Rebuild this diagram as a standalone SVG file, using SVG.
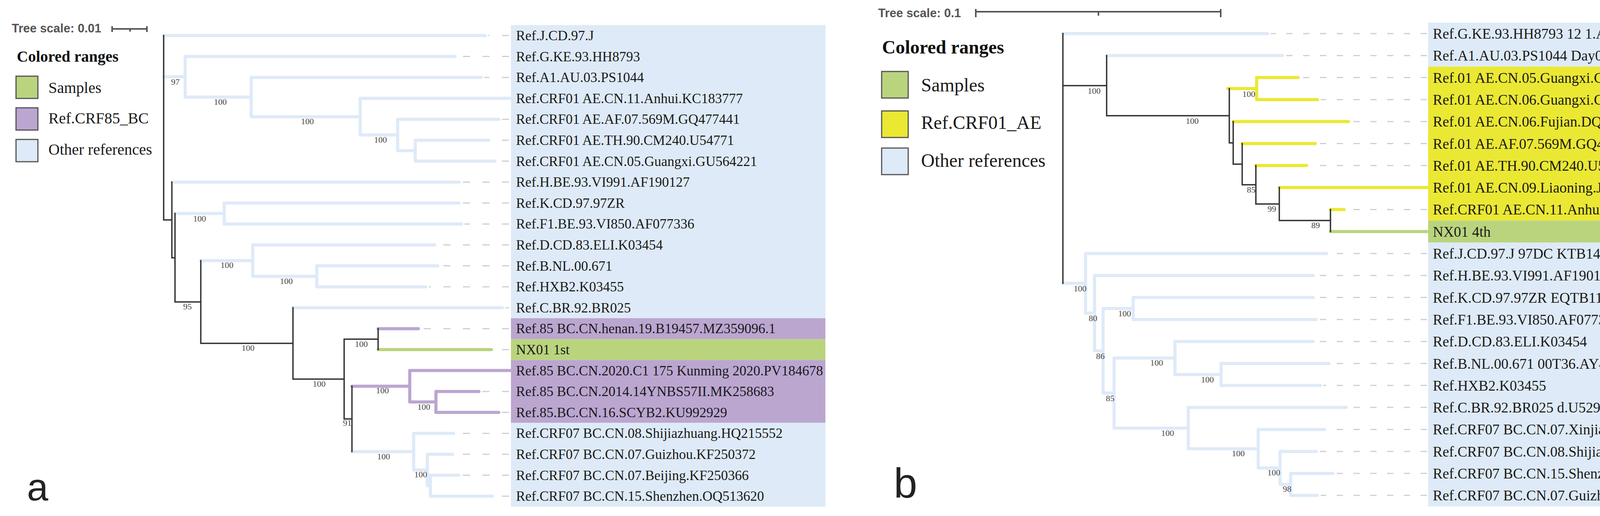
<svg xmlns="http://www.w3.org/2000/svg" width="4420" height="1321" viewBox="0 0 4420 1321">
<style>
.lb{stroke:#dfeaf8;stroke-width:8;stroke-linecap:round;fill:none}
.pu{stroke:#bba6d0;stroke-width:8;stroke-linecap:round;fill:none}
.gr{stroke:#bad47e;stroke-width:8;stroke-linecap:round;fill:none}
.ye{stroke:#ebe833;stroke-width:8;stroke-linecap:round;fill:none}
.bk{stroke:#333;stroke-width:3.5;stroke-linecap:square;fill:none}
.dsa{stroke:#cfcfcf;stroke-width:3;stroke-dasharray:18 32;fill:none}
.dsb{stroke:#cfcfcf;stroke-width:3;stroke-dasharray:16 27;fill:none}
.la{font-family:"Liberation Serif",serif;font-size:35.5px;fill:#1a1a1a}
.lbb{font-family:"Liberation Serif",serif;font-size:37.3px;fill:#1a1a1a}
.bs{font-family:"Liberation Serif",serif;font-size:22px;fill:#444;text-anchor:middle}
.ts{font-family:"Liberation Sans",Arial,sans-serif;font-size:31px;font-weight:bold;fill:#555}
.sc{stroke:#555;stroke-width:4;fill:none}
.lgt{font-family:"Liberation Serif",serif;font-weight:bold;fill:#111}
.lgl{font-family:"Liberation Serif",serif;fill:#1a1a1a}
.sw{stroke:#555;stroke-width:3}
.pl{font-family:"Liberation Sans",Arial,sans-serif;fill:#222}
.rb{fill:#deeaf7}.rp{fill:#bba6d0}.rg{fill:#bad47e}.ry{fill:#ebe833}
</style>

<!-- ================= PANEL A ================= -->
<g id="a-scale">
<text class="ts" x="30" y="83">Tree scale: 0.01</text>
<path class="sc" d="M287,74 H376 M287,67 V82 M376,67 V82 M333,74 V81"/>
</g>
<g id="a-legend">
<text class="lgt" x="43" y="158" font-size="40">Colored ranges</text>
<rect class="sw rg" x="41" y="195" width="56" height="57"/>
<text class="lgl" x="124" y="238" font-size="40">Samples</text>
<rect class="sw rp" x="41" y="276" width="56" height="57"/>
<text class="lgl" x="124" y="316" font-size="40">Ref.CRF85_BC</text>
<rect class="sw rb" x="41" y="357" width="56" height="57"/>
<text class="lgl" x="124" y="396" font-size="40">Other references</text>
</g>
<text id="a-panel" class="pl" x="69" y="1281" font-size="98">a</text>

<g id="a-ranges">
<rect class="rb" x="1308" y="64.2" width="805" height="750.4"/>
<rect class="rp" x="1308" y="814.6" width="805" height="53.6"/>
<rect class="rg" x="1308" y="868.2" width="805" height="53.6"/>
<rect class="rp" x="1308" y="921.8" width="805" height="160.8"/>
<rect class="rb" x="1308" y="1082.6" width="805" height="214.4"/>
</g>

<g id="a-connectors">
<g id="a-dashes">
<path class="dsa" d="M1303,91 H1250 M1303,144.6 H1173 M1303,198.2 H1240 M1303,305.4 H1285 M1303,359 H1259 M1303,412.6 H1275 M1303,466.2 H1183 M1303,519.8 H1183 M1303,573.4 H1189 M1303,627 H1121 M1303,680.6 H1129 M1303,734.2 H1098 M1303,787.8 H1294 M1303,841.4 H1079 M1303,895 H1266 M1303,1002.2 H1234 M1303,1055.8 H1285 M1303,1109.4 H1167 M1303,1163 H1167 M1303,1216.6 H1183 M1303,1270.2 H1269"/>
</g>
<g id="a-blue">
<path class="lb" d="M419,91 H1242 M419,196.5 H474 M474,144.6 V248.45 M474,144.6 H1165 M474,248.45 H643 M643,198.2 V298.7 M643,198.2 H1232 M643,298.7 H922 M922,251.8 V345.6 M922,251.8 H1308 M922,345.6 H1018 M1018,305.4 V385.8 M1018,305.4 H1277 M1018,385.8 H1063 M1063,359 V412.6 M1063,359 H1251 M1063,412.6 H1267"/>
<path class="lb" d="M440,466.2 H1175 M448,546.6 H574 M574,519.8 V573.4 M574,519.8 H1175 M574,573.4 H1181 M514,667.2 H647 M647,627 V707.4 M647,627 H1113 M647,707.4 H811 M811,680.6 V734.2 M811,680.6 H1121 M811,734.2 H1090 M750,787.8 H1286"/>
<path class="lb" d="M901,1156.3 H1059 M1059,1109.4 V1203.2 M1059,1109.4 H1161 M1059,1203.2 H1094 M1094,1163 V1243.4 M1094,1163 H1159 M1094,1243.4 H1102 M1102,1216.6 V1270.2 M1102,1216.6 H1175 M1102,1270.2 H1261"/>
</g>
<g id="a-purple">
<path class="pu" d="M968,841.4 H1071 M901,988.8 H1049 M1049,948.6 V1029 M1049,948.6 H1308 M1049,1029 H1116 M1116,1002.2 V1055.8 M1116,1002.2 H1226 M1116,1055.8 H1277"/>
</g>
<g id="a-green">
<path class="gr" d="M968,895 H1258"/>
</g>
<g id="a-black">
<path class="bk" d="M419,91 V563 H440 M440,466.2 V659.9 H448 M448,546.6 V773.1 H514 M514,667.2 V879.1 H750 M750,787.8 V970.4 H881 M881,868.2 V1072.5 H901 M881,868.2 H968 M968,841.4 V895 M901,988.8 V1156.3"/>
</g>
</g>

<g id="a-support">
<text class="bs" x="449" y="217">97</text>
<text class="bs" x="564" y="268">100</text>
<text class="bs" x="787" y="318">100</text>
<text class="bs" x="974" y="365">100</text>
<text class="bs" x="511" y="567">100</text>
<text class="bs" x="480" y="792">95</text>
<text class="bs" x="581" y="686">100</text>
<text class="bs" x="733" y="727">100</text>
<text class="bs" x="635" y="898">100</text>
<text class="bs" x="817" y="990">100</text>
<text class="bs" x="925" y="888">100</text>
<text class="bs" x="889" y="1090">91</text>
<text class="bs" x="979" y="1007">100</text>
<text class="bs" x="1085" y="1049">100</text>
<text class="bs" x="982" y="1176">100</text>
<text class="bs" x="1077" y="1222">100</text>
</g>

<g id="a-leaf-00"><text class="la" x="1321" y="103">Ref.J.CD.97.J</text></g>
<g id="a-leaf-01"><text class="la" x="1321" y="156.6">Ref.G.KE.93.HH8793</text></g>
<g id="a-leaf-02"><text class="la" x="1321" y="210.2">Ref.A1.AU.03.PS1044</text></g>
<g id="a-leaf-03"><text class="la" x="1321" y="263.8">Ref.CRF01 AE.CN.11.Anhui.KC183777</text></g>
<g id="a-leaf-04"><text class="la" x="1321" y="317.4">Ref.CRF01 AE.AF.07.569M.GQ477441</text></g>
<g id="a-leaf-05"><text class="la" x="1321" y="371">Ref.CRF01 AE.TH.90.CM240.U54771</text></g>
<g id="a-leaf-06"><text class="la" x="1321" y="424.6">Ref.CRF01 AE.CN.05.Guangxi.GU564221</text></g>
<g id="a-leaf-07"><text class="la" x="1321" y="478.2">Ref.H.BE.93.VI991.AF190127</text></g>
<g id="a-leaf-08"><text class="la" x="1321" y="531.8">Ref.K.CD.97.97ZR</text></g>
<g id="a-leaf-09"><text class="la" x="1321" y="585.4">Ref.F1.BE.93.VI850.AF077336</text></g>
<g id="a-leaf-10"><text class="la" x="1321" y="639">Ref.D.CD.83.ELI.K03454</text></g>
<g id="a-leaf-11"><text class="la" x="1321" y="692.6">Ref.B.NL.00.671</text></g>
<g id="a-leaf-12"><text class="la" x="1321" y="746.2">Ref.HXB2.K03455</text></g>
<g id="a-leaf-13"><text class="la" x="1321" y="799.8">Ref.C.BR.92.BR025</text></g>
<g id="a-leaf-14"><text class="la" x="1321" y="853.4">Ref.85 BC.CN.henan.19.B19457.MZ359096.1</text></g>
<g id="a-leaf-15"><text class="la" x="1321" y="907">NX01 1st</text></g>
<g id="a-leaf-16"><text class="la" x="1321" y="960.6">Ref.85 BC.CN.2020.C1 175 Kunming 2020.PV184678</text></g>
<g id="a-leaf-17"><text class="la" x="1321" y="1014.2">Ref.85 BC.CN.2014.14YNBS57II.MK258683</text></g>
<g id="a-leaf-18"><text class="la" x="1321" y="1067.8">Ref.85.BC.CN.16.SCYB2.KU992929</text></g>
<g id="a-leaf-19"><text class="la" x="1321" y="1121.4">Ref.CRF07 BC.CN.08.Shijiazhuang.HQ215552</text></g>
<g id="a-leaf-20"><text class="la" x="1321" y="1175">Ref.CRF07 BC.CN.07.Guizhou.KF250372</text></g>
<g id="a-leaf-21"><text class="la" x="1321" y="1228.6">Ref.CRF07 BC.CN.07.Beijing.KF250366</text></g>
<g id="a-leaf-22"><text class="la" x="1321" y="1282.2">Ref.CRF07 BC.CN.15.Shenzhen.OQ513620</text></g>

<!-- ================= PANEL B ================= -->
<g id="b-scale">
<text class="ts" x="2248" y="44">Tree scale: 0.1</text>
<path class="sc" d="M2498,30 H3125 M2498,23 V44 M3125,23 V44 M2812,30 V40"/>
</g>
<g id="b-legend">
<text class="lgt" x="2258" y="137" font-size="48">Colored ranges</text>
<rect class="sw rg" x="2257" y="183" width="68" height="68"/>
<text class="lgl" x="2358" y="234" font-size="48">Samples</text>
<rect class="sw ry" x="2257" y="284" width="68" height="68"/>
<text class="lgl" x="2358" y="330" font-size="48">Ref.CRF01_AE</text>
<rect class="sw rb" x="2257" y="379" width="68" height="68"/>
<text class="lgl" x="2358" y="427" font-size="48">Other references</text>
</g>
<text id="b-panel" class="pl" x="2288" y="1274" font-size="108">b</text>

<g id="b-ranges">
<rect class="rb" x="3656" y="57.85" width="731" height="112.6"/>
<rect class="ry" x="3656" y="170.45" width="731" height="394.1"/>
<rect class="rg" x="3656" y="564.55" width="731" height="56.3"/>
<rect class="rb" x="3656" y="620.85" width="731" height="675.6"/>
</g>

<g id="b-connectors">
<g id="b-dashes">
<path class="dsb" d="M3653,86 H3253 M3653,142.3 H3291 M3653,198.6 H3331 M3653,254.9 H3381 M3653,311.2 H3460 M3653,367.5 H3375 M3653,423.8 H3353 M3653,536.4 H3449 M3653,649 H3404 M3653,705.3 H3370 M3653,761.6 H3370 M3653,817.9 H3377 M3653,874.2 H3370 M3653,930.5 H3410 M3653,986.8 H3388 M3653,1043.1 H3454 M3653,1099.4 H3399 M3653,1155.7 H3378 M3653,1212 H3420 M3653,1268.3 H3381"/>
</g>
<g id="b-blue">
<path class="lb" d="M2721,86 H3245 M2833,142.3 H3283"/>
<path class="lb" d="M2721,725.3 H2779 M2779,649 V801.6 M2779,649 H3396 M2779,801.6 H2802 M2802,705.3 V897.95 M2802,705.3 H3362 M2802,897.95 H2824 M2824,789.75 V1006.15 M2824,789.75 H2901 M2901,761.6 V817.9 M2901,761.6 H3362 M2901,817.9 H3369 M2824,1006.15 H2852 M2852,916.4 V1095.9 M2852,916.4 H3008 M3008,874.2 V958.65 M3008,874.2 H3362 M3008,958.65 H3126 M3126,930.5 V986.8 M3126,930.5 H3402 M3126,986.8 H3380"/>
<path class="lb" d="M2852,1095.9 H3042 M3042,1043.1 V1148.65 M3042,1043.1 H3446 M3042,1148.65 H3221 M3221,1099.4 V1197.9 M3221,1099.4 H3391 M3221,1197.9 H3277 M3277,1155.7 V1240.15 M3277,1155.7 H3370 M3277,1240.15 H3304 M3304,1212 V1268.3 M3304,1212 H3412 M3304,1268.3 H3373"/>
</g>
<g id="b-yellow">
<path class="ye" d="M3143,226.75 H3217 M3217,198.6 V254.9 M3217,198.6 H3323 M3217,254.9 H3373 M3157,311.2 H3452 M3180,367.5 H3367 M3215,423.8 H3345 M3275,480.1 H3656 M3406,536.4 H3441"/>
</g>
<g id="b-green">
<path class="gr" d="M3406,592.7 H3656"/>
</g>
<g id="b-black">
<path class="bk" d="M2721,86 V725.3 M2721,219.3 H2833 M2833,142.3 V296.25 H3147 M3147,226.75 V365.75 H3157 M3157,311.2 V420.3 H3180 M3180,367.5 V473.05 H3215 M3215,423.8 V522.3 H3275 M3275,480.1 V564.55 H3406 M3406,536.4 V592.7"/>
</g>
</g>

<g id="b-support">
<text class="bs" x="2801" y="240">100</text>
<text class="bs" x="3052" y="317">100</text>
<text class="bs" x="3197" y="248">100</text>
<text class="bs" x="3203" y="493">85</text>
<text class="bs" x="3256" y="542">99</text>
<text class="bs" x="3368" y="584">89</text>
<text class="bs" x="2765" y="746">100</text>
<text class="bs" x="2798" y="822">80</text>
<text class="bs" x="2817" y="919">86</text>
<text class="bs" x="2879" y="810">100</text>
<text class="bs" x="2842" y="1027">85</text>
<text class="bs" x="2961" y="936">100</text>
<text class="bs" x="3091" y="979">100</text>
<text class="bs" x="2989" y="1116">100</text>
<text class="bs" x="3170" y="1168">100</text>
<text class="bs" x="3261" y="1217">100</text>
<text class="bs" x="3295" y="1259">98</text>
</g>

<g id="b-leaf-00"><text class="lbb" x="3668" y="99">Ref.G.KE.93.HH8793 12 1.AF061641</text></g>
<g id="b-leaf-01"><text class="lbb" x="3668" y="155.3">Ref.A1.AU.03.PS1044 Day0.DQ676872</text></g>
<g id="b-leaf-02"><text class="lbb" x="3668" y="211.6">Ref.01 AE.CN.05.Guangxi.GU564221</text></g>
<g id="b-leaf-03"><text class="lbb" x="3668" y="267.9">Ref.01 AE.CN.06.Guangxi.GU564230</text></g>
<g id="b-leaf-04"><text class="lbb" x="3668" y="324.2">Ref.01 AE.CN.06.Fujian.DQ859180</text></g>
<g id="b-leaf-05"><text class="lbb" x="3668" y="380.5">Ref.01 AE.AF.07.569M.GQ477441</text></g>
<g id="b-leaf-06"><text class="lbb" x="3668" y="436.8">Ref.01 AE.TH.90.CM240.U54771</text></g>
<g id="b-leaf-07"><text class="lbb" x="3668" y="493.1">Ref.01 AE.CN.09.Liaoning.JX960639</text></g>
<g id="b-leaf-08"><text class="lbb" x="3668" y="549.4">Ref.CRF01 AE.CN.11.Anhui.KC183777</text></g>
<g id="b-leaf-09"><text class="lbb" x="3668" y="605.7">NX01 4th</text></g>
<g id="b-leaf-10"><text class="lbb" x="3668" y="662">Ref.J.CD.97.J 97DC KTB147.EF614151</text></g>
<g id="b-leaf-11"><text class="lbb" x="3668" y="718.3">Ref.H.BE.93.VI991.AF190127</text></g>
<g id="b-leaf-12"><text class="lbb" x="3668" y="774.6">Ref.K.CD.97.97ZR EQTB11.AJ249235</text></g>
<g id="b-leaf-13"><text class="lbb" x="3668" y="830.9">Ref.F1.BE.93.VI850.AF077336</text></g>
<g id="b-leaf-14"><text class="lbb" x="3668" y="887.2">Ref.D.CD.83.ELI.K03454</text></g>
<g id="b-leaf-15"><text class="lbb" x="3668" y="943.5">Ref.B.NL.00.671 00T36.AY423387</text></g>
<g id="b-leaf-16"><text class="lbb" x="3668" y="999.8">Ref.HXB2.K03455</text></g>
<g id="b-leaf-17"><text class="lbb" x="3668" y="1056.1">Ref.C.BR.92.BR025 d.U52953</text></g>
<g id="b-leaf-18"><text class="lbb" x="3668" y="1112.4">Ref.CRF07 BC.CN.07.Xinjiang.EF368370</text></g>
<g id="b-leaf-19"><text class="lbb" x="3668" y="1168.7">Ref.CRF07 BC.CN.08.Shijiazhuang.HQ215552</text></g>
<g id="b-leaf-20"><text class="lbb" x="3668" y="1225">Ref.CRF07 BC.CN.15.Shenzhen.OQ513620</text></g>
<g id="b-leaf-21"><text class="lbb" x="3668" y="1281.3">Ref.CRF07 BC.CN.07.Guizhou.KF250372</text></g>
</svg>
